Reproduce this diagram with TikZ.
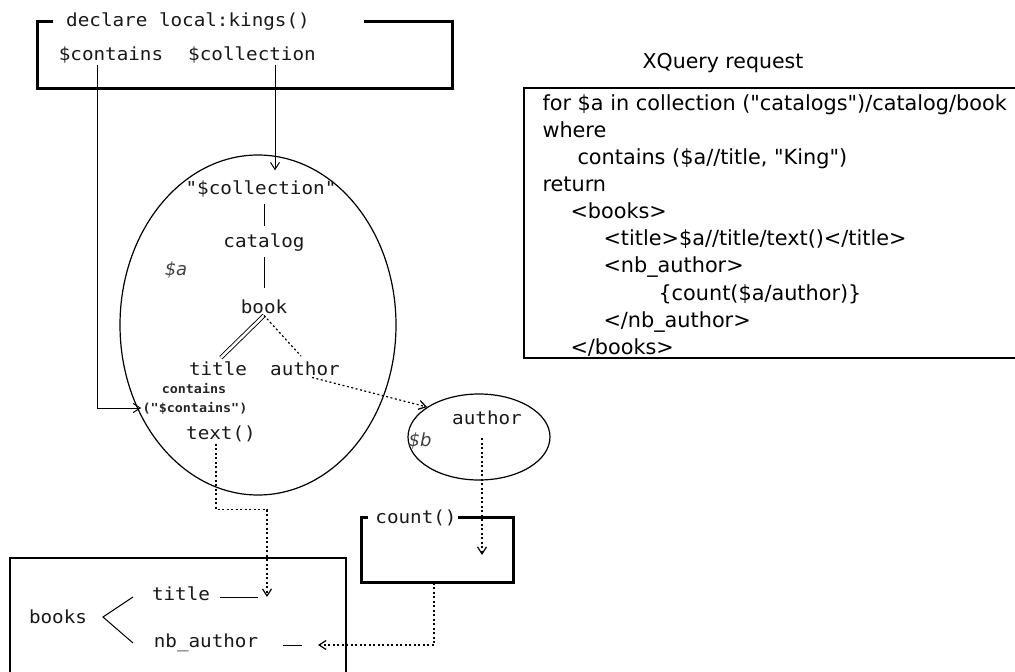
\documentclass[tikz,border=0pt]{standalone}
\usepackage{fontspec}
\setmainfont{DejaVu Sans}
\newfontfamily\diagmono[FakeStretch=1.07]{DejaVu Sans Mono}
\usetikzlibrary{shapes.geometric,arrows.meta}
\tikzstyle{mono} = [font=\diagmono\fontsize{18}{21}\selectfont, text=black!90, inner sep=1pt]
\tikzstyle{small} = [font=\diagmono\bfseries\fontsize{12.5}{14}\selectfont, text=black!85, inner sep=1pt]
\tikzstyle{var} = [font=\itshape\fontsize{18}{21}\selectfont, text=black!75, inner sep=1pt]
\tikzstyle{xq} = [font=\fontsize{20.8}{27.1}\selectfont, align=left, anchor=north west, inner sep=0pt]
\tikzstyle{thickbox} = [line width=3pt]
\tikzstyle{dots} = [dash pattern=on 2pt off 2.5pt, line width=1.2pt]
\tikzstyle{vtip} = [-{Straight Barb[length=7pt,width=9pt]}]

\begin{document}
\begin{tikzpicture}[x=1pt, y=-1pt, line width=1pt]
\useasboundingbox (0,0) rectangle (1015,672);

\node (declbox) [minimum width=414, minimum height=66, inner sep=0] at (245,55) {};
\draw[thickbox] ([xshift=15pt]declbox.north west) -- (declbox.north west) -- (declbox.south west)
  -- (declbox.south east) -- (declbox.north east) -- ([xshift=-89pt]declbox.north east);
\node[mono] (decl) at (188,22) {declare local:kings()};
\node[mono] (contains) at (111,55) {\$contains};
\node[mono] (collection) at (252,55) {\$collection};

\node[draw, ellipse, minimum width=276, minimum height=340, line width=1.2pt] (setA) at (258,325) {};
\node[mono] (collq) at (261,189) {"\$collection"};
\node[mono] (catalog) at (264,243) {catalog};
\node[mono] (book) at (264,307) {book};
\node[mono] (title) at (218,369) {title};
\node[mono] (author) at (305,369) {author};
\node[small] (cword) at (194,389) {contains};
\node[small] (cont) at (195,408) {("\$contains")};
\node[mono] (text) at (221,434) {text()};
\node[var] (a) at (176,270) {\$a};

\draw[shorten <=5pt, shorten >=7pt] (catalog.north |- collq.south) -- (catalog.north);
\draw[shorten <=4pt, shorten >=11pt] (catalog.south) -- (book.north);
\draw[double distance=2.5pt, line width=0.9pt, shorten >=4pt] (book.south) -- (title.north);
\draw[dots, shorten >=6pt] (book.south) -- (author.north);

\draw[vtip] ([xshift=-14pt]contains.south) |- (cont.west);
\draw[vtip] ([xshift=23pt]collection.south) -- ([xshift=14pt, yshift=9pt]collq.north);

\node[draw, ellipse, minimum width=142, minimum height=86, line width=1.2pt] (setB) at (479,437) {};
\node[mono] (bauthor) at (487,418) {author};
\node[var] (b) at (420,441) {\$b};
\draw[dots, vtip] ([xshift=7pt]author.south) -- (setB.150);

\node (countbox) [minimum width=151, minimum height=64, inner sep=0] at (437.5,550) {};
\draw[thickbox] ([xshift=6pt]countbox.north west) -- (countbox.north west) -- (countbox.south west)
  -- (countbox.south east) -- (countbox.north east) -- ([xshift=-56pt]countbox.north east);
\node[mono] (count) at (416,518) {count()};
\coordinate (cin) at (482,555);
\draw[dots, vtip] ([xshift=-5pt, yshift=-12pt]bauthor.south) -- (cin);

\draw[line width=1.5pt] (10,680) -- (10,558) -- (346,558) -- (346,680);
\node[mono] (books) at (58,617) {books};
\node[mono] (otitle) at (181,594) {title};
\node[mono] (nbauthor) at (206,643) {nb\_author};
\draw (133,597) -- (103,617) -- (133,643);
\coordinate (tin) at (267,597);
\coordinate (nin) at (318,645);
\draw ([xshift=9pt, yshift=-3pt]otitle.east) -- ([xshift=-9pt]tin);
\draw ([xshift=23pt, yshift=-2pt]nbauthor.east) -- ([xshift=-16pt]nin);
\draw[dots, vtip] ([xshift=-5pt]text.south) -- ++(0,66) -| (tin);
\draw[dots, vtip] ([xshift=-3.5pt]countbox.south) |- (nin);

\node[font=\fontsize{20.5}{24}\selectfont] (xqtitle) at (723,63) {XQuery request};
\draw[line width=2.5pt] (524,88) rectangle (1025,358);
\node[xq] (xquery) at (542,94) {for \$a in collection (\textquotedbl catalogs\textquotedbl)/catalog/book\\
where\\
\hspace*{35pt}contains (\$a//title, \textquotedbl King\textquotedbl)\\
return\\
\hspace*{28pt}<books>\\
\hspace*{61pt}<title>\$a//title/text()</title>\\
\hspace*{61pt}<nb\_author>\\
\hspace*{116pt}\{count(\$a/author)\}\\
\hspace*{61pt}</nb\_author>\\
\hspace*{28pt}</books>};
\end{tikzpicture}
\end{document}
